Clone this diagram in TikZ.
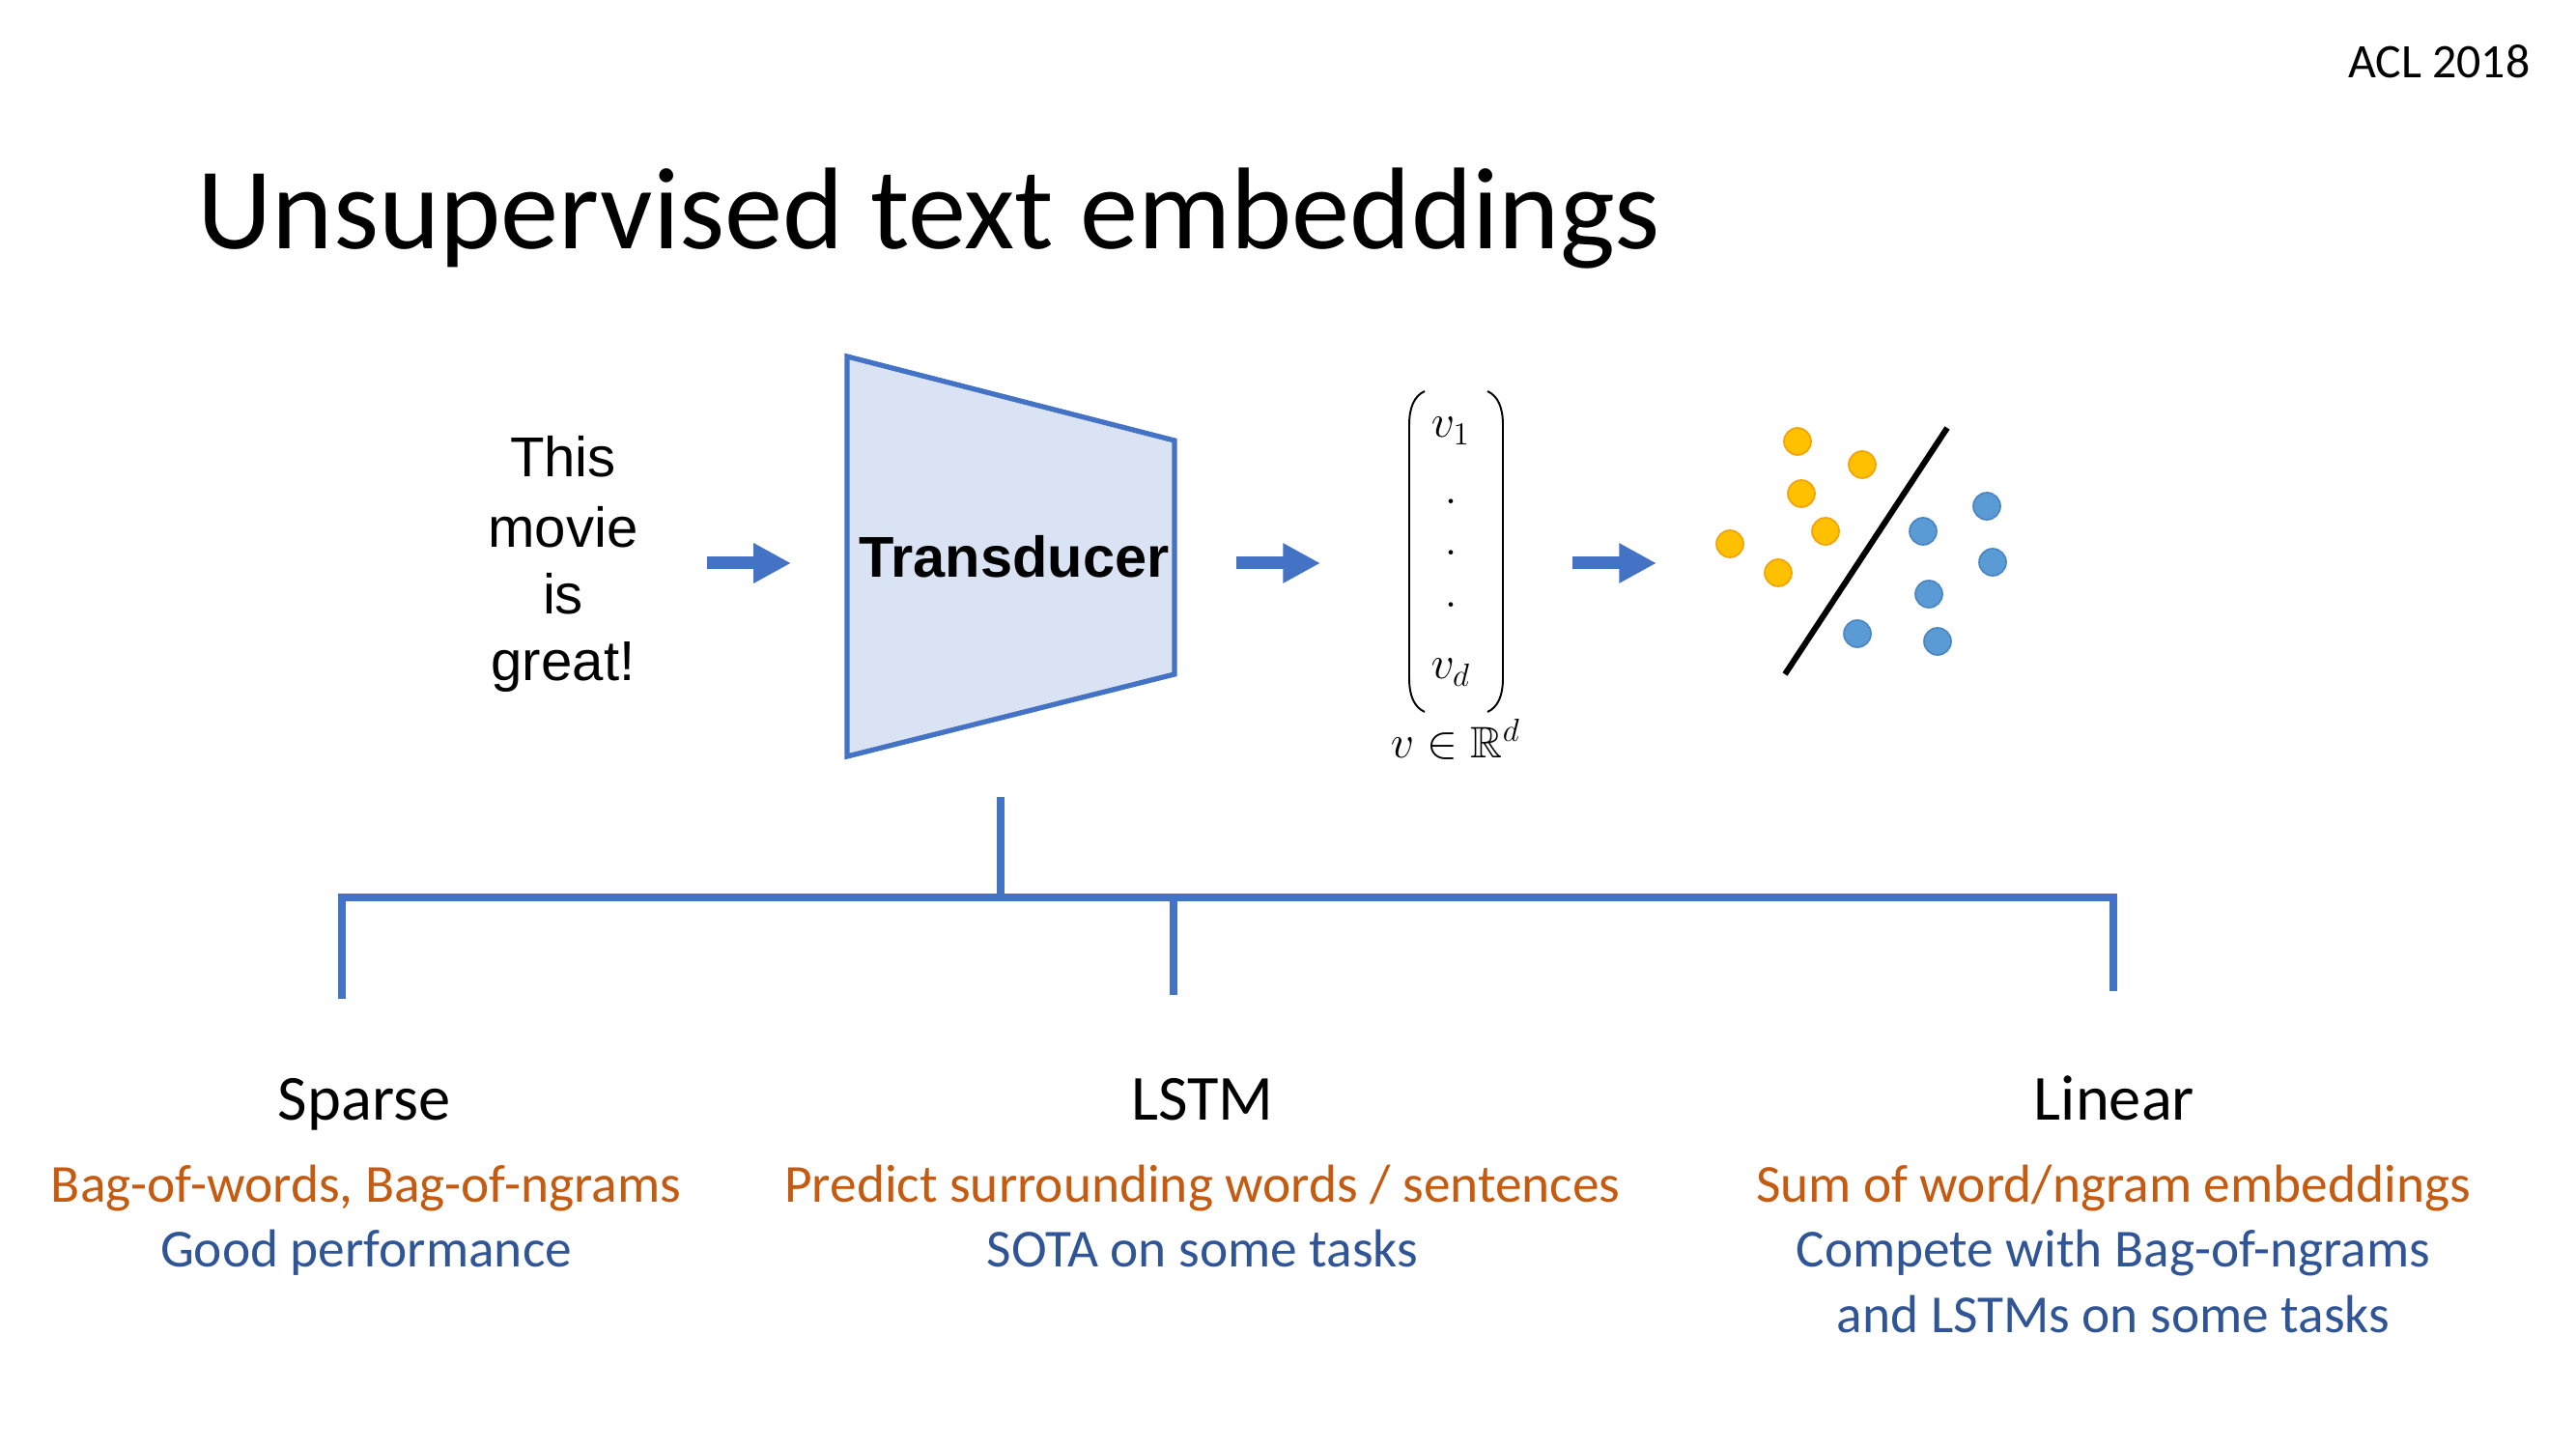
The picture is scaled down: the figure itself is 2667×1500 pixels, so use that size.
\documentclass[tikz,border=0pt]{standalone}
\usepackage{fontspec}
\usepackage{amsmath,amssymb}
\setmainfont{Carlito}
\newfontfamily\arialfont{Liberation Sans}
\usetikzlibrary{arrows.meta}
\definecolor{accblue}{HTML}{4472C4}
\definecolor{boxfill}{HTML}{DAE3F3}
\definecolor{dotorange}{HTML}{FFC000}
\definecolor{dotorangeedge}{HTML}{F2A20C}
\definecolor{dotblue}{HTML}{5B9BD5}
\definecolor{dotblueedge}{HTML}{4A85C2}
\definecolor{txtorange}{HTML}{C55A11}
\definecolor{txtblue}{HTML}{2F5597}
\begin{document}
\begin{tikzpicture}[x=0.0127cm, y=-0.0127cm]
  \tikzstyle{every node}+=[inner sep=0pt]
  \tikzstyle{flow}=[accblue, line width=4.7pt, -{Triangle[length=14pt, width=14pt]}]
  \tikzstyle{branch}=[accblue, line width=2.9pt]
  \tikzstyle{word}=[anchor=base, font=\arialfont\fontsize{21}{25}\selectfont]
  \tikzstyle{vec}=[anchor=base, font=\fontsize{18}{21}\selectfont]
  \tikzstyle{head}=[anchor=base, font=\fontsize{24}{29}\selectfont]
  \tikzstyle{subo}=[anchor=base, text=txtorange, font=\fontsize{20}{24}\selectfont]
  \tikzstyle{subb}=[anchor=base, text=txtblue, font=\fontsize{20}{24}\selectfont]
  \tikzstyle{odot}=[draw=dotorangeedge, fill=dotorange, line width=0.6pt]
  \tikzstyle{bdot}=[draw=dotblueedge, fill=dotblue, line width=0.6pt]
  \useasboundingbox (0,0) rectangle (2667,1500);
  \node [anchor=base east, font=\fontsize{18}{22}\selectfont] (venue) at (2620,81) {ACL 2018};
  \node [anchor=base west, font=\fontsize{43.5}{52}\selectfont] (title) at (204,258) {Unsupervised text embeddings};
  \node [word] (wthis) at (583,494) {This};
  \node [word] (wmovie) at (583,567) {movie};
  \node [word] (wis) at (583,636) {is};
  \node [word] (wgreat) at (583,705) {great!};
  \draw [accblue, fill=boxfill, line width=1.9pt] (877,369) -- (1216,456) -- (1216,698) -- (877,783) -- cycle;
  \node [anchor=base, font=\arialfont\bfseries\fontsize{21.5}{25}\selectfont] (transducer) at (1050,598) {Transducer};
  \coordinate (inS) at (732,583);
  \coordinate (inE) at (819,583);
  \coordinate (outS) at (1280,583);
  \coordinate (outE) at (1367,583);
  \coordinate (clsS) at (1628,583);
  \coordinate (clsE) at (1715,583);
  \draw [flow] (inS) -- (inE);
  \draw [flow] (outS) -- (outE);
  \draw [flow] (clsS) -- (clsE);
  \node [vec] (vone) at (1502,453) {$v_1$};
  \node [vec] (vdota) at (1502,522) {$.$};
  \node [vec] (vdotb) at (1502,575) {$.$};
  \node [vec] (vdotc) at (1502,629) {$.$};
  \node [vec] (vlast) at (1502,703) {$v_d$};
  \node [anchor=base, font=\fontsize{16.5}{20}\selectfont] (vspace) at (1507,785) {$v \in \mathbb{R}^d$};
  \draw [line width=0.7pt] (1475,405) .. controls (1464,410) and (1459,422) .. (1459,440) -- (1459,702) .. controls (1459,720) and (1464,732) .. (1475,737);
  \draw [line width=0.7pt] (1540,405) .. controls (1551,410) and (1556,422) .. (1556,440) -- (1556,702) .. controls (1556,720) and (1551,732) .. (1540,737);
  \draw [odot] (1861,457) circle (14);
  \draw [odot] (1928,481) circle (14);
  \draw [odot] (1865,511) circle (14);
  \draw [odot] (1890,550) circle (14);
  \draw [odot] (1791,563) circle (14);
  \draw [odot] (1841,593) circle (14);
  \draw [bdot] (2057,524) circle (14);
  \draw [bdot] (1991,550) circle (14);
  \draw [bdot] (2063,582) circle (14);
  \draw [bdot] (1997,615) circle (14);
  \draw [bdot] (1923,656) circle (14);
  \draw [bdot] (2006,664) circle (14);
  \draw [line width=2.2pt] (1848,698) -- (2016,443);
  \coordinate (stem) at (1036,825);
  \coordinate (fork) at (1036,929);
  \coordinate (legL) at (354,1034);
  \coordinate (legM) at (1215,1030);
  \coordinate (legR) at (2188,1026);
  \draw [branch] (stem) -- (fork);
  \draw [branch] (legL) -- (legL |- fork) -- (legR |- fork) -- (legR);
  \draw [branch] (legM |- fork) -- (legM);
  \node [head] (sparse) at (377,1160) {Sparse};
  \node [subo] (sparseA) at (379,1245) {Bag-of-words, Bag-of-ngrams};
  \node [subb] (sparseB) at (379,1312) {Good performance};
  \node [head] (lstm) at (1245,1160) {LSTM};
  \node [subo] (lstmA) at (1245,1245) {Predict surrounding words / sentences};
  \node [subb] (lstmB) at (1245,1312) {SOTA on some tasks};
  \node [head] (linear) at (2189,1160) {Linear};
  \node [subo] (linearA) at (2188,1245) {Sum of word/ngram embeddings};
  \node [subb] (linearB) at (2188,1312) {Compete with Bag-of-ngrams};
  \node [subb] (linearC) at (2188,1379) {and LSTMs on some tasks};
\end{tikzpicture}
\end{document}
